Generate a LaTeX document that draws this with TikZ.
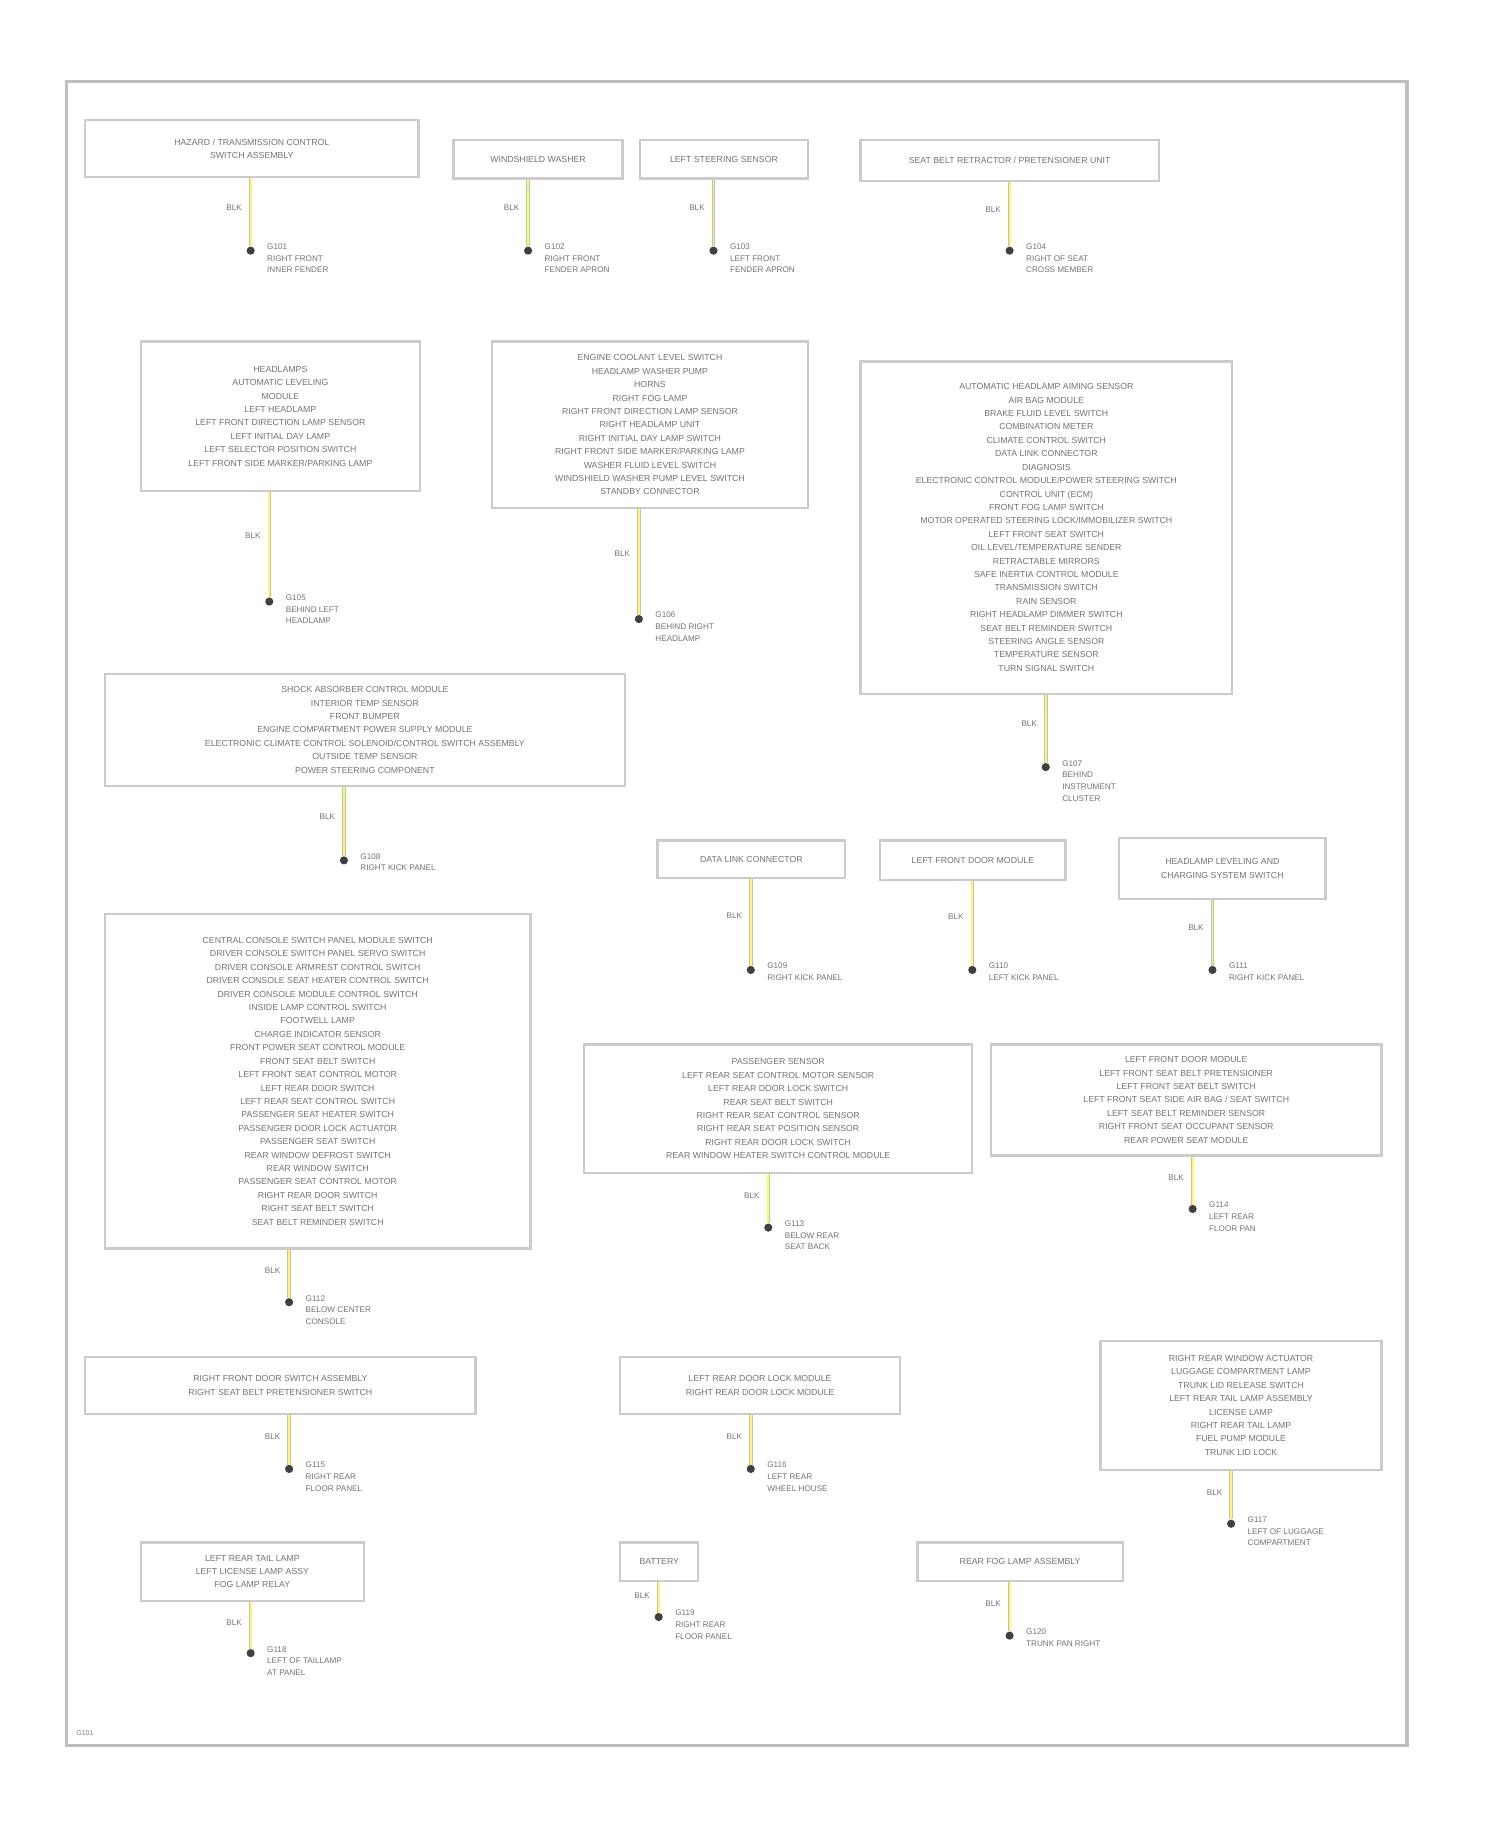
\documentclass[tikz,border=0pt]{standalone}
\usepackage{fontspec}
\setmainfont{Liberation Sans}
\begin{document}
\begin{tikzpicture}[x=1pt,y=-1pt,
  gbox/.style={draw=black!20,line width=2pt,align=center,inner sep=0pt,text=black!55,font=\fontsize{7.5}{11.5}\selectfont},
  dot/.style={circle,fill=black!75,inner sep=0pt,minimum size=7pt},
  stem/.style={draw=black!25,line width=3pt,postaction={draw=yellow!60!white,line width=1.6pt}},
  wlab/.style={text=black!55,font=\fontsize{7}{8}\selectfont,anchor=east},
  glab/.style={text=black!55,font=\fontsize{7}{10}\selectfont,anchor=north west,align=left,inner sep=0pt}]
\useasboundingbox (0,0) rectangle (1287,1568);
\draw[black!25,line width=3pt] (57,70) rectangle (1207,1497);
\newcommand{\gb}[9]{%
  \node[gbox,minimum width=#4pt,minimum height=#5pt,anchor=north west] (b#1) at (#2,#3) {#6};
  \node[dot] (d#1) at (#7,#8) {};
  \draw[stem] (d#1 |- b#1.south) -- (d#1);
  \node[wlab] (w#1) at ($(d#1 |- b#1.south)!0.4!(d#1)+(-4,0)$) {BLK};
  \node[glab] (l#1) at ($(d#1)+(14,-6)$) {#9};}
\usetikzlibrary{calc}
\gb{1}{72}{102}{286}{49}{HAZARD / TRANSMISSION CONTROL\\SWITCH ASSEMBLY}{215}{215}{G101\\RIGHT FRONT\\INNER FENDER}
\gb{2}{388}{119}{145}{33}{WINDSHIELD WASHER}{453}{215}{G102\\RIGHT FRONT\\FENDER APRON}
\gb{3}{548}{119}{144}{33}{LEFT STEERING SENSOR}{612}{215}{G103\\LEFT FRONT\\FENDER APRON}
\gb{4}{737}{119}{256}{35}{SEAT BELT RETRACTOR / PRETENSIONER UNIT}{866}{215}{G104\\RIGHT OF SEAT\\CROSS MEMBER}
\gb{5}{120}{292}{239}{128}{HEADLAMPS\\AUTOMATIC LEVELING\\MODULE\\LEFT HEADLAMP\\LEFT FRONT DIRECTION LAMP SENSOR\\LEFT INITIAL DAY LAMP\\LEFT SELECTOR POSITION SWITCH\\LEFT FRONT SIDE MARKER/PARKING LAMP}{231}{516}{G105\\BEHIND LEFT\\HEADLAMP}
\gb{6}{421}{292}{271}{143}{ENGINE COOLANT LEVEL SWITCH\\HEADLAMP WASHER PUMP\\HORNS\\RIGHT FOG LAMP\\RIGHT FRONT DIRECTION LAMP SENSOR\\RIGHT HEADLAMP UNIT\\RIGHT INITIAL DAY LAMP SWITCH\\RIGHT FRONT SIDE MARKER/PARKING LAMP\\WASHER FLUID LEVEL SWITCH\\WINDSHIELD WASHER PUMP LEVEL SWITCH\\STANDBY CONNECTOR}{548}{531}{G106\\BEHIND RIGHT\\HEADLAMP}
\gb{7}{737}{309}{319}{285}{AUTOMATIC HEADLAMP AIMING SENSOR\\AIR BAG MODULE\\BRAKE FLUID LEVEL SWITCH\\COMBINATION METER\\CLIMATE CONTROL SWITCH\\DATA LINK CONNECTOR\\DIAGNOSIS\\ELECTRONIC CONTROL MODULE/POWER STEERING SWITCH\\CONTROL UNIT (ECM)\\FRONT FOG LAMP SWITCH\\MOTOR OPERATED STEERING LOCK/IMMOBILIZER SWITCH\\LEFT FRONT SEAT SWITCH\\OIL LEVEL/TEMPERATURE SENDER\\RETRACTABLE MIRRORS\\SAFE INERTIA CONTROL MODULE\\TRANSMISSION SWITCH\\RAIN SENSOR\\RIGHT HEADLAMP DIMMER SWITCH\\SEAT BELT REMINDER SWITCH\\STEERING ANGLE SENSOR\\TEMPERATURE SENSOR\\TURN SIGNAL SWITCH}{897}{658}{G107\\BEHIND\\INSTRUMENT\\CLUSTER}
\gb{8}{89}{577}{446}{96}{SHOCK ABSORBER CONTROL MODULE\\INTERIOR TEMP SENSOR\\FRONT BUMPER\\ENGINE COMPARTMENT POWER SUPPLY MODULE\\ELECTRONIC CLIMATE CONTROL SOLENOID/CONTROL SWITCH ASSEMBLY\\OUTSIDE TEMP SENSOR\\POWER STEERING COMPONENT}{295}{738}{G108\\RIGHT KICK PANEL}
\gb{9}{563}{720}{161}{32}{DATA LINK CONNECTOR}{644}{832}{G109\\RIGHT KICK PANEL}
\gb{10}{754}{720}{159}{34}{LEFT FRONT DOOR MODULE}{834}{832}{G110\\LEFT KICK PANEL}
\gb{11}{959}{718}{177}{52}{HEADLAMP LEVELING AND\\CHARGING SYSTEM SWITCH}{1040}{832}{G111\\RIGHT KICK PANEL}
\gb{12}{89}{783}{365}{287}{CENTRAL CONSOLE SWITCH PANEL MODULE SWITCH\\DRIVER CONSOLE SWITCH PANEL SERVO SWITCH\\DRIVER CONSOLE ARMREST CONTROL SWITCH\\DRIVER CONSOLE SEAT HEATER CONTROL SWITCH\\DRIVER CONSOLE MODULE CONTROL SWITCH\\INSIDE LAMP CONTROL SWITCH\\FOOTWELL LAMP\\CHARGE INDICATOR SENSOR\\FRONT POWER SEAT CONTROL MODULE\\FRONT SEAT BELT SWITCH\\LEFT FRONT SEAT CONTROL MOTOR\\LEFT REAR DOOR SWITCH\\LEFT REAR SEAT CONTROL SWITCH\\PASSENGER SEAT HEATER SWITCH\\PASSENGER DOOR LOCK ACTUATOR\\PASSENGER SEAT SWITCH\\REAR WINDOW DEFROST SWITCH\\REAR WINDOW SWITCH\\PASSENGER SEAT CONTROL MOTOR\\RIGHT REAR DOOR SWITCH\\RIGHT SEAT BELT SWITCH\\SEAT BELT REMINDER SWITCH}{248}{1117}{G112\\BELOW CENTER\\CONSOLE}
\gb{13}{500}{895}{333}{110}{PASSENGER SENSOR\\LEFT REAR SEAT CONTROL MOTOR SENSOR\\LEFT REAR DOOR LOCK SWITCH\\REAR SEAT BELT SWITCH\\RIGHT REAR SEAT CONTROL SENSOR\\RIGHT REAR SEAT POSITION SENSOR\\RIGHT REAR DOOR LOCK SWITCH\\REAR WINDOW HEATER SWITCH CONTROL MODULE}{659}{1053}{G113\\BELOW REAR\\SEAT BACK}
\gb{14}{849}{895}{335}{95}{LEFT FRONT DOOR MODULE\\LEFT FRONT SEAT BELT PRETENSIONER\\LEFT FRONT SEAT BELT SWITCH\\LEFT FRONT SEAT SIDE AIR BAG / SEAT SWITCH\\LEFT SEAT BELT REMINDER SENSOR\\RIGHT FRONT SEAT OCCUPANT SENSOR\\REAR POWER SEAT MODULE}{1023}{1037}{G114\\LEFT REAR\\FLOOR PAN}
\gb{15}{72}{1163}{335}{49}{RIGHT FRONT DOOR SWITCH ASSEMBLY\\RIGHT SEAT BELT PRETENSIONER SWITCH}{248}{1260}{G115\\RIGHT REAR\\FLOOR PANEL}
\gb{16}{531}{1163}{240}{49}{LEFT REAR DOOR LOCK MODULE\\RIGHT REAR DOOR LOCK MODULE}{644}{1260}{G116\\LEFT REAR\\WHEEL HOUSE}
\gb{17}{943}{1149}{241}{111}{RIGHT REAR WINDOW ACTUATOR\\LUGGAGE COMPARTMENT LAMP\\TRUNK LID RELEASE SWITCH\\LEFT REAR TAIL LAMP ASSEMBLY\\LICENSE LAMP\\RIGHT REAR TAIL LAMP\\FUEL PUMP MODULE\\TRUNK LID LOCK}{1056}{1307}{G117\\LEFT OF LUGGAGE\\COMPARTMENT}
\gb{18}{120}{1322}{191}{50}{LEFT REAR TAIL LAMP\\LEFT LICENSE LAMP ASSY\\FOG LAMP RELAY}{215}{1418}{G118\\LEFT OF TAILLAMP\\AT PANEL}
\gb{19}{531}{1322}{67}{33}{BATTERY}{565}{1387}{G119\\RIGHT REAR\\FLOOR PANEL}
\gb{20}{786}{1322}{176}{33}{REAR FOG LAMP ASSEMBLY}{866}{1403}{G120\\TRUNK PAN RIGHT}
\node[text=black!50,font=\fontsize{6}{7}\selectfont,anchor=west] (code) at (62,1487) {G101};
\end{tikzpicture}
\end{document}
